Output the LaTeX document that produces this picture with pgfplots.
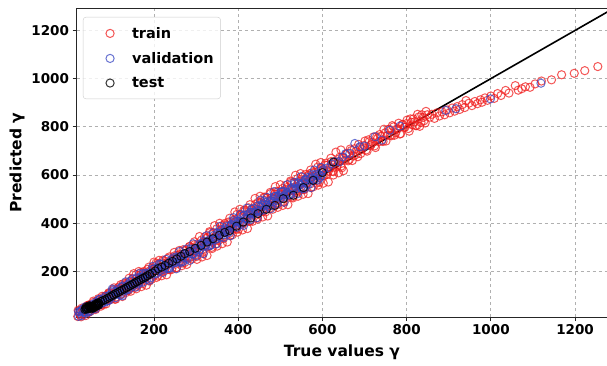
\documentclass[border=0pt]{standalone}
\usepackage{pgfplots}
\pgfplotsset{compat=1.18}
\usepackage{fontspec}
\setmainfont{DejaVu Sans}
\definecolor{trainred}{RGB}{240,30,30}
\definecolor{valblue}{RGB}{55,70,195}
\definecolor{gridgray}{RGB}{176,176,176}
\pgfplotsset{
 mylegimg/.style={legend image code/.code={\path[draw=none,fill=none] (0pt,-4pt) rectangle (42pt,4pt); \draw[##1] plot coordinates {(22pt,0pt)};}},
 trainstyle/.style={only marks, mark=o, mark size=4.1pt, trainred, mark options={line width=1pt, opacity=0.75}, mylegimg},
 valstyle/.style={only marks, mark=o, mark size=4.1pt, valblue, mark options={line width=1pt, opacity=0.75}, mylegimg},
 teststyle/.style={only marks, mark=o, mark size=4.1pt, black, mark options={line width=1pt, opacity=0.8}, mylegimg},
}
\begin{document}
\begin{tikzpicture}
\useasboundingbox (0,0) rectangle (607pt,365pt);
\begin{axis}[
 at={(76.5pt,48pt)}, anchor=south west,
 scale only axis, width=531pt, height=309pt,
 xmin=16, xmax=1277, ymin=11, ymax=1293,
 xtick={200,400,...,1200}, ytick={200,400,...,1200},
 grid=major, major grid style={gridgray, dashed, line width=0.8pt},
 axis line style={black!85, line width=0.9pt},
 tick align=outside, xtick pos=lower, ytick pos=left, major tick length=4pt,
 tick style={black!85, line width=0.8pt},
 /pgf/number format/assume math mode=true, /pgf/number format/1000 sep={},
 ticklabel style={font=\bfseries\fontsize{13.5}{16}\selectfont},
 xlabel={True values γ}, ylabel={Predicted γ},
 label style={font=\bfseries\fontsize{15.5}{18}\selectfont},
 xlabel style={yshift=-3pt},
 legend style={at={(0.012,0.971)}, anchor=north west, draw=black!20, rounded corners=3pt,
   fill=white, fill opacity=0.8, text opacity=1, draw opacity=1,
   font=\bfseries\fontsize{14.5}{17}\selectfont, inner xsep=5pt, inner ysep=8pt, row sep=8.5pt,
   cells={anchor=west}},
]
\addplot[trainstyle] coordinates {
(15,28)(19,13)(23,26)(27,12)(31,40)(35,33)(39,45)(43,32)(47,62)(51,46)(55,57)(59,47)(63,73)(67,60)(71,76)(75,62)(79,86)(83,80)(87,99)(91,82)(95,109)(99,93)
(103,107)(107,85)(111,124)(115,113)(119,128)(123,108)(127,149)(131,124)(135,137)(139,121)(143,158)(147,136)(151,158)(155,135)(159,170)(163,159)(167,185)(171,158)(175,195)(179,170)(183,187)(187,165)(191,204)(195,193)(199,208)(203,187)(207,228)(211,202)(215,215)(219,198)(223,234)(227,212)(231,233)(235,209)(239,244)(243,232)(247,257)(251,230)(255,267)(259,241)(263,258)(267,235)(271,274)(275,263)(279,277)(283,257)(287,298)(291,272)(295,285)(299,269)
(303,311)(307,282)(311,309)(315,280)(319,324)(323,308)(327,341)(331,306)(335,353)(339,321)(343,343)(347,314)(351,363)(355,348)(359,367)(363,341)(367,393)(371,362)(375,378)(379,358)(383,405)(387,375)(391,402)(395,374)(399,418)(403,402)(407,435)(411,401)(415,447)(419,416)(423,438)(427,408)(431,458)(435,442)(439,461)(443,434)(447,487)(451,455)(455,470)(459,449)(463,495)(467,465)(471,491)(475,462)(479,505)(483,489)(487,521)(491,486)(495,532)(499,500)(503,521)(507,491)(511,540)(515,523)(519,541)(523,514)(527,566)(531,534)(535,549)(539,527)(543,573)(547,543)(551,569)(555,540)(559,583)(563,566)(567,598)(571,563)(575,609)(579,577)(583,598)(587,567)(591,616)(595,600)(599,618)
(604,597)(609,640)(614,616)(619,631)(624,616)(629,654)(634,634)(639,657)(644,636)(649,672)(654,662)(659,690)(664,664)(669,702)(674,679)(679,697)(684,676)(689,716)(694,707)(699,723)(704,704)(709,746)(714,722)(719,736)(724,721)(729,759)(734,738)(739,761)(744,739)(749,775)(754,764)(759,790)(764,763)(769,800)(774,775)(779,792)(784,770)(789,809)(794,798)(799,813)(804,793)(809,833)(814,808)(819,821)(824,805)(829,841)(834,818)(839,839)(844,816)(849,850)
(855,840)(860,852)(866,835)(872,858)(878,845)(884,862)(890,850)(896,870)(902,858)(908,878)(914,865)(920,884)(926,872)(932,892)(938,880)(941,909)(948,898)(955,888)(962,905)(968,896)(975,912)(979,902)(986,920)(992,910)(1000,928)(1008,918)(1016,938)(1024,930)(1035,951)(1043,940)(1058,971)(1065,952)(1073,958)(1082,966)(1093,964)(1105,978)(1120,990)(1144,995)(1168,1016)(1198,1022)(1223,1033)(1254,1050)
};
\addlegendentry{train}
\addplot[trainstyle, forget plot] coordinates {
(17,8)(21,35)(25,19)(29,48)(33,21)(37,40)(41,58)(45,30)(49,57)(53,50)(57,72)(61,42)(65,70)(69,81)(73,63)(77,97)(81,64)(85,99)(89,83)(93,112)(97,85)
(101,105)(105,132)(109,85)(113,126)(117,113)(121,145)(125,96)(129,136)(133,151)(137,122)(141,172)(145,118)(149,170)(153,143)(157,186)(161,143)(165,169)(169,196)(173,149)(177,190)(181,177)(185,209)(189,160)(193,200)(197,215)(201,185)(205,235)(209,181)(213,232)(217,204)(221,247)(225,203)(229,229)(233,254)(237,207)(241,247)(245,234)(249,265)(253,215)(257,255)(261,270)(265,240)(269,290)(273,237)(277,288)(281,261)(285,304)(289,260)(293,286)(297,312)
(301,262)(305,308)(309,294)(313,330)(317,274)(321,320)(325,337)(329,303)(333,361)(337,300)(341,359)(345,328)(349,377)(353,328)(357,358)(361,389)(365,336)(369,382)(373,368)(377,405)(381,349)(385,395)(389,413)(393,379)(397,437)(401,376)(405,435)(409,404)(413,453)(417,404)(421,434)(425,464)(429,411)(433,457)(437,442)(441,479)(445,423)(449,469)(453,486)(457,451)(461,508)(465,447)(469,505)(473,474)(477,523)(481,472)(485,502)(489,531)(493,478)(497,523)(501,508)(505,544)(509,487)(513,532)(517,549)(521,515)(525,571)(529,509)(533,568)(537,536)(541,585)(545,534)(549,564)(553,593)(557,540)(561,585)(565,570)(569,605)(573,548)(577,594)(581,611)(585,576)(589,633)(593,571)(597,629)(601,598)
(606,642)(611,603)(616,629)(621,656)(626,614)(631,653)(636,643)(641,674)(646,630)(651,670)(656,685)(661,659)(666,708)(671,660)(676,709)(681,686)(686,727)(691,689)(696,715)(701,741)(706,699)(711,738)(716,727)(721,758)(726,714)(731,752)(736,768)(741,742)(746,790)(751,741)(756,789)(761,765)(766,805)(771,765)(776,790)(781,815)(786,772)(791,810)(796,798)(801,828)(806,782)(811,819)(816,833)(821,805)(826,852)(831,802)(836,850)(841,825)(846,864)
};
\addplot[trainstyle, forget plot] coordinates {
(20,39)(26,8)(32,45)(38,17)(44,60)(50,36)(56,77)(62,46)(68,87)(74,56)(80,93)(86,65)(92,108)(98,84)(104,125)(110,94)(116,135)(122,104)(128,141)(134,113)(140,156)(146,132)
(152,191)(158,128)(164,200)(170,137)(176,200)(182,143)(188,218)(194,167)(200,239)(206,175)(212,246)(218,182)(224,244)(230,186)(236,260)(242,208)(248,279)(254,216)(260,287)(266,224)(272,286)(278,229)(284,303)(290,252)(296,323)
(302,250)(308,345)(314,260)(320,343)(326,266)(332,365)(338,295)(344,390)(350,305)(356,400)(362,315)(368,399)(374,322)(380,421)(386,352)(392,447)(398,363)(404,458)(410,372)(416,455)(422,378)(428,477)(434,408)(440,503)(446,417)(452,512)(458,426)(464,508)(470,430)(476,528)(482,458)(488,552)(494,466)(500,560)(506,474)(512,556)(518,477)(524,575)(530,505)(536,599)(542,512)(548,606)(554,520)(560,602)(566,523)(572,621)(578,551)(584,645)(590,558)(596,652)(602,566)(608,649)(614,571)(620,670)(626,600)(632,695)(638,609)(644,704)(650,618)
};
\addplot[valstyle] coordinates {
(15,19)(21,14)(27,37)(33,31)(39,28)(45,51)(51,51)(57,52)(63,74)(69,61)(75,77)(81,88)(87,75)(93,98)(99,95)
(105,116)(111,116)(117,108)(123,135)(129,126)(135,122)(141,149)(147,147)(153,147)(159,173)(165,155)(171,174)(177,186)(183,168)(189,195)(195,191)
(201,211)(207,210)(213,202)(219,228)(225,218)(231,212)(237,238)(243,236)(249,235)(255,260)(261,241)(267,260)(273,272)(279,253)(285,280)(291,274)(297,295)
(303,295)(309,289)(315,317)(321,309)(327,305)(333,333)(339,332)(345,333)(351,359)(357,342)(363,364)(369,377)(375,360)(381,388)(387,384)(393,406)(399,408)
(405,401)(411,430)(417,422)(423,418)(429,446)(435,445)(441,446)(447,472)(453,454)(459,474)(465,486)(471,468)(477,495)(483,490)(489,512)(495,511)
(501,504)(507,531)(513,521)(519,517)(525,544)(531,542)(537,542)(543,567)(549,549)(555,568)(561,580)(567,561)(573,588)(579,583)(585,604)(591,603)(597,596)(603,623)
(612,630)(622,646)(630,655)(640,655)(648,675)(655,688)(665,690)(677,731)(689,717)(700,720)(725,759)(741,745)(760,786)(784,803)(893,868)(917,875)(999,916)(1119,981)
};
\addlegendentry{validation}
\addplot[valstyle, forget plot] coordinates {
(18,9)(24,31)(30,44)(36,32)(42,43)(48,34)(54,64)(60,53)(66,70)(72,85)(78,70)(84,83)(90,79)(96,103)
(102,120)(108,103)(114,116)(120,102)(126,139)(132,123)(138,143)(144,160)(150,139)(156,154)(162,148)(168,177)(174,192)(180,175)(186,188)(192,174)(198,211)
(204,194)(210,214)(216,230)(222,208)(228,222)(234,214)(240,243)(246,257)(252,238)(258,251)(264,237)(270,273)(276,257)(282,277)(288,293)(294,272)(300,286)
(306,280)(312,311)(318,327)(324,310)(330,324)(336,311)(342,349)(348,334)(354,355)(360,373)(366,353)(372,370)(378,364)(384,395)(390,411)(396,395)
(402,409)(408,396)(414,434)(420,419)(426,440)(432,458)(438,438)(444,453)(450,448)(456,477)(462,492)(468,475)(474,488)(480,474)(486,511)(492,495)(498,515)
(504,532)(510,511)(516,526)(522,519)(528,548)(534,563)(540,545)(546,558)(552,544)(558,580)(564,564)(570,585)(576,601)(582,580)(588,595)(594,588)(600,617)
};
\addplot[valstyle, forget plot] coordinates {
(21,33)(29,16)(37,53)(45,34)(53,60)(61,45)(69,83)(77,69)(85,97)(93,80)
(101,127)(109,91)(117,129)(125,99)(133,157)(141,127)(149,169)(157,135)(165,191)(173,155)(181,193)(189,163)(197,221)
(205,190)(213,231)(221,196)(229,250)(237,213)(245,250)(253,211)(261,283)(269,241)(277,293)(285,246)(293,315)
(301,266)(309,314)(317,274)(325,348)(333,307)(341,361)(349,315)(357,387)(365,340)(373,388)(381,348)(389,423)(397,383)
(405,437)(413,391)(421,463)(429,415)(437,463)(445,423)(453,496)(461,455)(469,507)(477,460)(485,531)(493,482)
(501,529)(509,487)(517,560)(525,518)(533,570)(541,523)(549,593)(557,543)(565,590)(573,548)(581,621)(589,579)(597,631)
};
\addplot[teststyle] coordinates {
(36,42)(38,46)(40,44)(42,49)(44,46)(46,52)(48,49)(50,54)(52,51)(54,56)(56,53)(58,58)(60,55)(62,60)(64,57)(66,63)(68,60)(70,66)(39,52)(45,57)(51,45)(55,48)(61,64)(65,68)(48,57)(58,50)(68,70)
(74,75)(79,79)(84,83)(89,88)(94,93)(99,98)(104,103)(109,108)(114,112)(119,118)(124,122)(129,127)(134,132)(139,137)(144,142)(149,147)(154,152)(159,157)(164,162)(169,167)(174,172)(179,176)(184,182)(190,188)(196,194)
(203,202)(210,212)(218,218)(226,225)(235,234)(244,242)(254,252)(264,263)(273,274)(285,283)(298,296)(312,308)(326,322)(340,336)(355,350)(368,362)(380,370)(396,388)(412,405)(430,422)(447,440)(467,458)(487,474)(507,502)(531,516)(555,548)(578,578)(600,610)(626,654)
};
\addlegendentry{test}
\addplot[black, line width=1.6pt, forget plot] coordinates {(0,0)(1300,1300)};
\end{axis}
\end{tikzpicture}
\end{document}
